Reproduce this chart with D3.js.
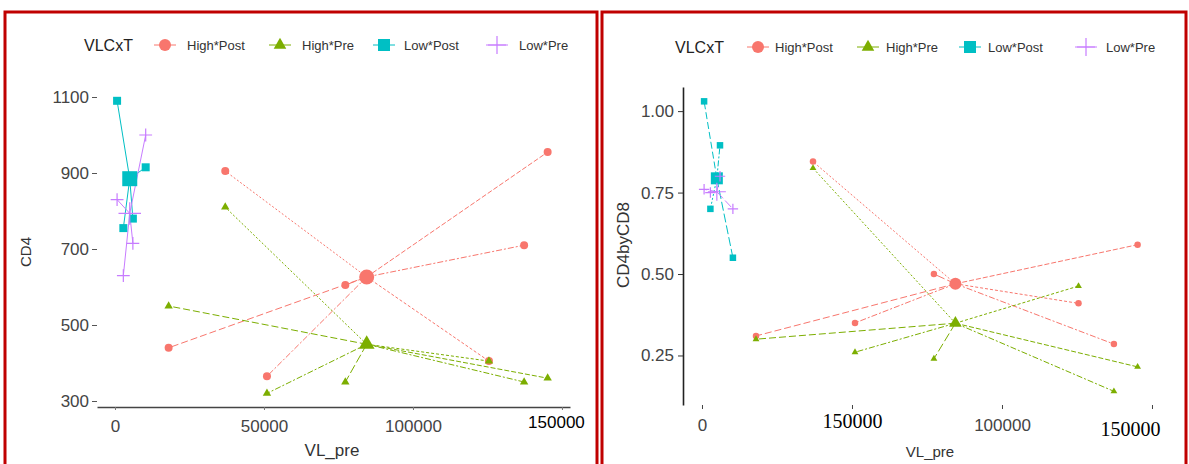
<!DOCTYPE html>
<html>
<head>
<meta charset="utf-8">
<script src="https://cdn.jsdelivr.net/npm/d3@7"></script>
<style>
  body { margin: 0; background: #fff; }
  text { font-family: "Liberation Sans", Arial, sans-serif; }
</style>
</head>
<body>
<script>
// Groups in legend order
var groups = ["High*Post", "High*Pre", "Low*Post", "Low*Pre"];

// VL_pre of each subject (same subject in pre and post)
var highVL = [18000, 37000, 51000, 77300, 125500, 137300, 145200];
var lowVL = [700, 2800, 6000, 10300];

// CD4 (left panel)
var cd4HighPost = [440, 905, 365, 605, 405, 710, 955];
var cd4HighPre = [550, 810, 320, 350, 405, 350, 360];
var cd4LowPost = [1090, 755, 780, 915];
var cd4LowPre = [830, 630, 715, 1000];

// CD4byCD8 (right panel)
var ratioHighPost = [0.31, 0.845, 0.35, 0.50, 0.41, 0.285, 0.59];
var ratioHighPre = [0.30, 0.825, 0.26, 0.24, 0.463, 0.14, 0.215];
var ratioLowPost = [1.03, 0.70, 0.895, 0.55];
var ratioLowPre = [0.76, 0.75, 0.80, 0.70];

// tick values and labels
var xTicks = [0, 50000, 100000, 150000];
var leftXLabels = ["0", "50000", "100000", "150000"];
var rightXLabels = ["0", "150000", "100000", "150000"];
var leftYTicks = [300, 500, 700, 900, 1100];
var rightYTicks = [0.25, 0.50, 0.75, 1.00];

var colors = {
  "High*Post": "#F8766D",
  "High*Pre": "#7CAE00",
  "Low*Post": "#00BFC4",
  "Low*Pre": "#C77CFF"
};
var dashes = ["7,3", "2,2", "6,2,2,2", "9,3", "3,2", "6,2,2,2", "5,2"];
var sans = "Liberation Sans, Arial, sans-serif";
var serif = "Liberation Serif, Times New Roman, serif";

var svg = d3.select("body")
  .append("svg")
  .attr("width", 1189)
  .attr("height", 464);

// red frames round each panel
svg.append("rect").attr("x", 5).attr("y", 12).attr("width", 592).attr("height", 470)
  .attr("fill", "none").attr("stroke", "#c00000").attr("stroke-width", 3);
svg.append("rect").attr("x", 602).attr("y", 12).attr("width", 584).attr("height", 470)
  .attr("fill", "none").attr("stroke", "#c00000").attr("stroke-width", 3);

function drawMarker(g, group, cx, cy, size) {
  var color = colors[group];
  if (group == "Low*Pre") {
    var s = size / 2;
    g.append("path")
      .attr("d", `M${cx - s},${cy}H${cx + s}M${cx},${cy - s}V${cy + s}`)
      .attr("stroke", color).attr("stroke-width", 1.2).attr("fill", "none");
    return;
  }
  var type = d3.symbolCircle, area = Math.PI * size * size / 4;
  if (group == "High*Pre") { type = d3.symbolTriangle; area = Math.sqrt(3) / 4 * size * size * 1.1; }
  if (group == "Low*Post") { type = d3.symbolSquare; area = size * size; }
  g.append("path")
    .attr("d", d3.symbol().type(type).size(area)())
    .attr("transform", `translate(${cx},${cy})`)
    .attr("fill", color);
}

function drawLegend(x0, y0, keys, labelsX) {
  var lg = svg.append("g");
  lg.append("text").attr("x", x0).attr("y", y0).attr("dy", "0.35em")
    .attr("font-size", 16).attr("fill", "#222").text("VLCxT");
  groups.forEach(function(grp, i) {
    lg.append("line")
      .attr("x1", keys[i] - 11).attr("x2", keys[i] + 11)
      .attr("y1", y0).attr("y2", y0)
      .attr("stroke", colors[grp]).attr("stroke-width", 1);
    drawMarker(lg, grp, keys[i], y0, grp == "Low*Pre" ? 18 : 12);
    lg.append("text").attr("x", labelsX[i]).attr("y", y0).attr("dy", "0.35em")
      .attr("font-size", 13).attr("fill", "#333").text(grp);
  });
}

function drawSpokes(g, series, x, y, small, big, solidLow) {
  // lines first
  series.forEach(function(s) {
    var mx = d3.mean(s.vl), my = d3.mean(s.val);
    s.vl.forEach(function(v, i) {
      g.append("line")
        .attr("x1", x(mx)).attr("y1", y(my))
        .attr("x2", x(v)).attr("y2", y(s.val[i]))
        .attr("stroke", colors[s.group])
        .attr("stroke-width", 1)
        .attr("stroke-dasharray", (solidLow && s.group.indexOf("Low") == 0) ? null : dashes[i % dashes.length]);
    });
  });
  series.forEach(function(s) {
    var mx = d3.mean(s.vl), my = d3.mean(s.val);
    s.vl.forEach(function(v, i) {
      drawMarker(g, s.group, x(v), y(s.val[i]), s.group == "Low*Pre" ? small * 1.6 : small);
    });
    drawMarker(g, s.group, x(mx), y(my), s.group == "Low*Pre" ? big * 1.5 : big);
  });
}

// ---------- left panel: CD4 ----------
var xLeft = d3.scaleLinear().domain([-6040, 152700]).range([97, 570]);
var yLeft = d3.scaleLinear().domain([300, 1100]).range([401, 97]);

var leftG = svg.append("g");

var yAxisL = leftG.append("g")
  .attr("transform", `translate(${xLeft.range()[0]},0)`)
  .call(d3.axisLeft(yLeft).tickValues(leftYTicks).tickSize(5).tickPadding(3).tickFormat(d3.format("d")));
yAxisL.select(".domain").remove();
yAxisL.selectAll("text").attr("font-size", 17).attr("fill", "#444").style("font-family", sans);
yAxisL.selectAll("line").attr("stroke", "#555");

var xAxisL = leftG.append("g")
  .attr("transform", `translate(0,407)`)
  .call(d3.axisBottom(xLeft).tickValues(xTicks).tickSize(3).tickSizeOuter(0).tickPadding(10)
    .tickFormat((d, i) => leftXLabels[i]));
xAxisL.select(".domain").attr("stroke", "#444").attr("stroke-width", 1.5);
xAxisL.selectAll("line").attr("stroke", "#777");
xAxisL.selectAll("text")
  .attr("font-size", 17)
  .attr("fill", (d, i) => i == 3 ? "#000" : "#444")
  .attr("dx", (d, i) => i == 3 ? -6 : 0)
  .attr("dy", (d, i) => i == 3 ? "0.45em" : "0.71em")
  .style("font-family", sans);

leftG.append("text").attr("x", 332).attr("y", 456)
  .attr("text-anchor", "middle").attr("font-size", 17).attr("fill", "#333").text("VL_pre");
leftG.append("text").attr("transform", "translate(31,252) rotate(-90)")
  .attr("text-anchor", "middle").attr("font-size", 15).attr("fill", "#333").text("CD4");

drawSpokes(leftG, [
  {group: "High*Post", vl: highVL, val: cd4HighPost},
  {group: "High*Pre", vl: highVL, val: cd4HighPre},
  {group: "Low*Post", vl: lowVL, val: cd4LowPost},
  {group: "Low*Pre", vl: lowVL, val: cd4LowPre}
], xLeft, yLeft, 8, 15, true);

drawLegend(84, 45, [165, 280, 384, 497], [187, 302, 404, 519]);

// ---------- right panel: CD4byCD8 ----------
var xRight = d3.scaleLinear().domain([-6333, 152667]).range([683, 1160]);
var yRight = d3.scaleLinear().domain([0.098, 1.074]).range([405, 87]);

var rightG = svg.append("g");

var yAxisR = rightG.append("g")
  .attr("transform", `translate(${xRight.range()[0]},0)`)
  .call(d3.axisLeft(yRight).tickValues(rightYTicks).tickSize(5).tickSizeOuter(0).tickPadding(4)
    .tickFormat(d3.format(".2f")));
yAxisR.select(".domain").attr("stroke", "#222").attr("stroke-width", 1.6);
yAxisR.selectAll("text").attr("font-size", 17).attr("fill", "#444").style("font-family", sans);
yAxisR.selectAll("line").attr("stroke", "#333");

var xAxisR = rightG.append("g")
  .attr("transform", `translate(0,405)`)
  .call(d3.axisBottom(xRight).tickValues(xTicks).tickSize(4).tickSizeOuter(0).tickPadding(10)
    .tickFormat((d, i) => rightXLabels[i]));
xAxisR.select(".domain").remove();
xAxisR.selectAll("line").attr("stroke", "#444");
xAxisR.selectAll("text")
  .attr("font-size", (d, i) => (i == 1 || i == 3) ? 20 : 17)
  .attr("fill", (d, i) => (i == 1 || i == 3) ? "#000" : "#444")
  .attr("dx", (d, i) => i == 3 ? -22 : 0)
  .attr("dy", (d, i) => i == 3 ? "0.85em" : (i == 1 ? "0.45em" : "0.71em"))
  .style("font-family", (d, i) => (i == 1 || i == 3) ? serif : sans);

rightG.append("text").attr("x", 930).attr("y", 457)
  .attr("text-anchor", "middle").attr("font-size", 15).attr("fill", "#333").text("VL_pre");
rightG.append("text").attr("transform", "translate(629,245) rotate(-90)")
  .attr("text-anchor", "middle").attr("font-size", 17).attr("fill", "#333").text("CD4byCD8");

drawSpokes(rightG, [
  {group: "High*Post", vl: highVL, val: ratioHighPost},
  {group: "High*Pre", vl: highVL, val: ratioHighPre},
  {group: "Low*Post", vl: lowVL, val: ratioLowPost},
  {group: "Low*Pre", vl: lowVL, val: ratioLowPre}
], xRight, yRight, 6.5, 12, false);

drawLegend(675, 47, [758, 868, 970, 1086], [775, 886, 988, 1106]);
</script>
</body>
</html>
